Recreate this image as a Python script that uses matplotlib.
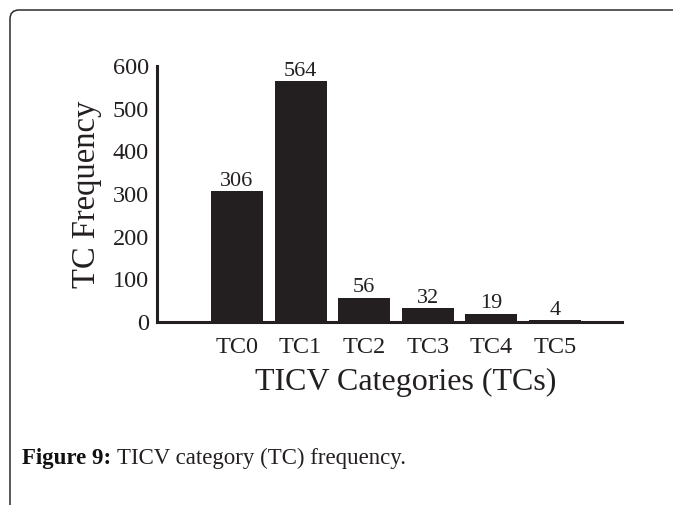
import matplotlib
matplotlib.use('Agg')
import matplotlib.pyplot as plt
from matplotlib.patches import FancyBboxPatch

categorias = ['TC0', 'TC1', 'TC2', 'TC3', 'TC4', 'TC5']
frequencias = [306, 564, 56, 32, 19, 4]
yticks = [0, 100, 200, 300, 400, 500, 600]

plt.rcParams['font.family'] = ['Liberation Serif', 'DejaVu Serif']

fig = plt.figure(figsize=(6.73, 5.05), dpi=100)
ax = fig.add_axes([0.2333, 0.3624, 0.691, 0.5069])

posicoes = list(range(len(categorias)))
barras = ax.bar(posicoes, frequencias, width=0.82, color='#231f20')
ax.bar_label(barras, labels=[str(v) for v in frequencias], padding=0.5, fontsize=16, color='#231f20')

ax.set_xlim(-1.26, 6.06)
ax.set_ylim(0, 600)
ax.set_yticks(yticks)
ax.set_xticks(posicoes)
ax.set_xticklabels(categorias)
ax.tick_params(axis='both', length=0, labelsize=17.5, colors='#231f20')
ax.tick_params(axis='y', pad=6)
ax.tick_params(axis='x', pad=11)

for lado in ['top', 'right']:
    ax.spines[lado].set_visible(False)
for lado in ['left', 'bottom']:
    ax.spines[lado].set_linewidth(2.2)
    ax.spines[lado].set_color('#231f20')

ax.set_ylabel('TC Frequency', fontsize=23.5, color='#231f20')
ax.yaxis.set_label_coords(-0.118, 0.5)
ax.set_xlabel('TICV Categories (TCs)', fontsize=23, color='#231f20')
ax.xaxis.set_label_coords(0.535, -0.18)

# moldura arredondada da figura
moldura = FancyBboxPatch((0.10, -1.0), 8.0, 5.95,
                         boxstyle='round,pad=0,rounding_size=0.09',
                         transform=fig.dpi_scale_trans, fill=False,
                         edgecolor='#2b2b2b', linewidth=1.1, clip_on=False)
fig.add_artist(moldura)

# legenda da figura
t1 = fig.text(22 / 673, 1 - 464 / 505, 'Figure 9:', fontsize=16.5, fontweight='bold',
              va='baseline', ha='left', color='#111111')
ax.annotate('TICV category (TC) frequency.', xy=(1, 0), xycoords=t1,
            xytext=(4, 0), textcoords='offset points', va='bottom', ha='left',
            fontsize=16.5, color='#231f20', annotation_clip=False)

fig.savefig('out.png', dpi=100)
